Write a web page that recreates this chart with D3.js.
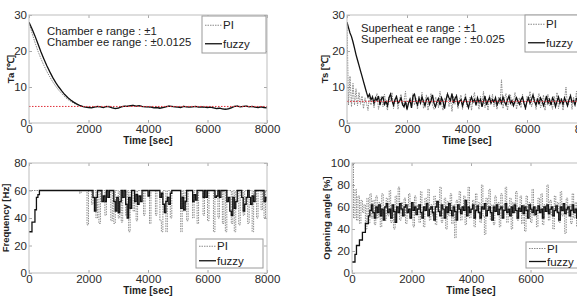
<!DOCTYPE html>
<html lang="en">
<head>
<meta charset="UTF-8">
<title>PI vs fuzzy control responses</title>
<script src="https://d3js.org/d3.v7.min.js"></script>
<style>
  body { margin: 0; background: #fff; }
  svg { display: block; font-family: Arial, Helvetica, sans-serif; }
</style>
</head>
<body>
<div id="chart"></div>
<script>
// ---- data ----
const xTicks = [0, 2000, 4000, 6000, 8000];

// chamber temperature Ta, one sample every 100 s
const taStep = 100;
const taFuzzy = [
  28, 26.2, 24.2, 22, 19.8, 17.8, 15.9, 14.2, 12.6, 11.2,
  10, 8.9, 7.9, 7.1, 6.4, 5.8, 5.3, 4.9, 4.6, 4.4,
  4.3, 4.2, 4.4, 4.6, 4.5, 4.3, 4.6, 4.5, 4.2, 4.0,
  4.1, 4.5, 4.7, 4.6, 4.8, 4.9, 4.7, 4.8, 4.6, 4.5,
  4.5, 4.4, 4.2, 4.3, 4.1, 4.3, 4.5, 4.7, 4.6, 4.5,
  4.4, 4.3, 4.6, 4.5, 4.4, 4.5, 4.6, 4.4, 4.5, 4.4,
  4.3, 4.4, 4.2, 4.0, 4.1, 3.9, 3.8, 3.9, 4.2, 4.6,
  4.7, 4.5, 4.6, 4.7, 4.5, 4.6, 4.4, 4.3, 4.5, 4.3,
  4.2
];
const taPI = [
  28, 25, 22.4, 20, 17.9, 16, 14.3, 12.8, 11.4, 10.2,
  9.1, 8.2, 7.3, 6.6, 6.0, 5.5, 5.1, 4.8, 4.5, 4.4,
  4.4, 4.3, 4.5, 4.4, 4.6, 4.4, 4.5, 4.7, 4.4, 4.1,
  4.2, 4.4, 4.6, 4.8, 4.6, 5.0, 4.6, 4.7, 4.5, 4.6,
  4.4, 4.5, 4.3, 4.4, 4.2, 4.4, 4.6, 4.8, 4.5, 4.6,
  4.5, 4.4, 4.7, 4.4, 4.5, 4.6, 4.5, 4.5, 4.6, 4.3,
  4.4, 4.3, 4.3, 4.1, 4.2, 4.0, 4.0, 4.1, 4.4, 4.5,
  4.8, 4.6, 4.5, 4.8, 4.6, 4.5, 4.5, 4.4, 4.6, 4.4,
  4.3
];
const taSetpoint = 4.6;
const taTicks = [0, 10, 20, 30];

// superheat Ts, one sample every 50 s
const tsStep = 50;
const tsFuzzy = [
  28, 26.5, 25, 24, 22.5, 20.8, 19, 17.5, 16, 14.5, 13, 11.5, 10, 8.5, 7.2,
  8.0, 6.5, 7.2, 5.5, 7.0, 6.2, 7.5, 5.0, 6.8, 7.2,
  5.2, 6.0, 4.8, 7.0, 8.0, 6.2, 5.0, 6.5, 7.3, 5.5,
  6.0, 7.0, 5.2, 4.5, 6.0, 3.8, 5.5, 6.5, 4.2, 7.5,
  8.0, 6.0, 5.0, 6.8, 5.5, 7.2, 6.0, 4.8, 6.5, 7.0,
  5.2, 6.2, 7.8, 5.5, 4.5, 6.0, 6.8, 5.0, 7.0, 6.0,
  4.0, 6.5, 8.0, 7.0, 6.2, 8.2, 5.5, 6.8, 7.5, 5.0,
  6.0, 6.5, 4.8, 6.2, 7.0, 5.5, 4.2, 6.0, 7.2, 5.8,
  6.5, 5.0, 7.0, 5.8, 6.5, 4.5, 6.0, 7.5, 5.0, 6.2,
  7.0, 5.5, 6.5, 5.8, 7.0, 5.0, 6.0, 6.8, 5.5, 7.2,
  6.0, 5.0, 6.5, 7.5, 5.5, 6.2, 4.8, 6.0, 7.0, 6.0,
  5.2, 6.5, 7.2, 5.5, 4.2, 6.0, 7.0, 5.5, 6.5, 7.8,
  6.0, 5.0, 6.8, 5.2, 7.0, 6.2, 4.8, 6.0, 7.5, 5.5,
  6.5, 5.0, 7.0, 6.2, 4.5, 6.0, 7.2, 5.5, 6.5, 5.2,
  7.0, 6.0, 4.8, 6.5, 7.5, 5.8, 6.2, 5.0, 6.8, 7.2,
  5.5, 6.0, 7.5, 5.2, 6.5, 6.0
];
const tsPI = [
  28, 5, 13, 4.5, 11, 5, 9.5, 4.8, 8.5, 5.2, 7.5, 4, 7, 5.5, 3.5, 7.5, 5,
  7.8, 4.2, 6.5, 8.2, 3.8, 6.0, 7.5, 4.5, 8.0, 5.2,
  3.5, 7.2, 6.0, 8.5, 4.0, 5.8, 7.8, 3.8, 6.5, 8.0,
  4.8, 6.2, 8.8, 3.5, 5.5, 7.0, 4.2, 8.2, 5.0, 6.8,
  3.8, 7.5, 5.5, 8.5, 4.0, 6.2, 7.8, 3.5, 6.0, 8.2,
  5.0, 3.8, 7.2, 6.5, 4.2, 8.8, 5.5, 3.5, 7.0, 6.0,
  8.5, 4.5, 6.8, 3.2, 7.5, 5.2, 8.0, 4.0, 6.5, 7.8,
  3.8, 6.0, 8.2, 4.5, 5.8, 7.2, 3.5, 6.8, 8.5, 4.8,
  6.2, 3.8, 7.5, 5.0, 8.8, 4.2, 6.5, 3.5, 7.8, 5.5,
  8.0, 4.5, 6.0, 3.8, 7.2, 5.2, 12.0, 4.0, 6.8, 8.2,
  3.5, 6.5, 7.8, 4.8, 5.8, 8.5, 3.8, 6.2, 7.0, 4.2,
  8.0, 5.5, 3.5, 7.5, 6.0, 8.8, 4.5, 5.8, 7.2, 3.8,
  6.5, 8.2, 4.2, 5.5, 7.8, 3.5, 6.8, 8.0, 4.8, 6.0,
  3.8, 7.5, 5.2, 8.5, 4.0, 6.2, 7.0, 3.5, 6.5, 10.0,
  4.5, 5.8, 8.2, 3.8, 7.2, 5.5, 8.8, 4.2, 6.0, 7.5,
  3.8, 6.5, 8.0, 5.0
];
const tsSetpoint = 6.0;
const tsTicks = [0, 10, 20, 30];

// compressor frequency, one sample every 50 s
const freqStep = 50;
const freqFuzzy = [
  30, 30, 37, 37, 46, 55, 57, 60,
  60, 60, 60, 60, 60, 60, 60, 60, 60, 60,
  60, 60, 60, 60, 60, 60, 60, 60, 60, 60,
  60, 60, 60, 60, 60, 60, 60, 60, 60, 60,
  60, 60, 60, 60, 60,
  55, 45, 55, 60, 60, 60, 52, 56, 52, 60,
  55, 60, 60, 60, 52, 45, 55, 44, 52, 60,
  55, 60, 50, 40, 55, 47, 60, 60, 52, 57,
  50, 56, 52, 60, 60, 60, 60, 56, 60, 60,
  60, 60, 60, 60, 60, 55, 58, 50, 44, 52,
  55, 50, 58, 60, 60, 60, 60, 60, 60, 47,
  55, 46, 52, 60, 60, 60, 60, 52, 57, 53,
  60, 60, 60, 60, 55, 60, 55, 60, 60, 60,
  60, 60, 55, 56, 60, 55, 60, 60, 60, 60,
  52, 55, 45, 42, 55, 47, 52, 60, 60, 60,
  55, 45, 50, 55, 60, 55, 50, 56, 52, 60,
  60, 60, 60, 60, 60, 52, 55, 52
];
const freqPI = [
  60, 60, 60, 60, 60, 60, 60, 60, 60, 60,
  60, 60, 60, 60, 60, 60, 60, 60, 60, 60,
  60, 60, 60, 60, 60, 60, 60, 60, 60, 60,
  60, 60, 60, 60,
  58, 60, 60, 60, 60, 35, 60, 60, 50, 60,
  60, 40, 60, 36, 60, 60, 60, 42, 60, 60,
  60, 38, 60, 36, 60, 60, 40, 60, 37, 60,
  60, 42, 60, 30, 60, 60, 45, 60, 38, 60,
  60, 60, 60, 42, 60, 60, 60, 36, 60, 60,
  60, 42, 60, 60, 38, 30, 60, 60, 30, 60,
  60, 40, 60, 60, 60, 60, 60, 60, 30, 60,
  45, 60, 38, 60, 60, 60, 40, 60, 60, 36,
  60, 60, 60, 42, 60, 60, 38, 60, 60, 60,
  30, 60, 60, 40, 60, 60, 36, 60, 30, 60,
  60, 60, 36, 60, 30, 60, 60, 35, 60, 60,
  42, 60, 60, 36, 60, 60, 30, 60, 60, 40,
  60, 60, 46, 60, 40, 60, 60
];
const freqTicks = [0, 20, 40, 60, 80];

// expansion valve opening angle, one sample every 50 s
const openStep = 50;
const openFuzzy = [
  10, 10, 17, 25, 25, 30, 30, 37, 37, 45, 45, 52, 57, 62, 55,
  50, 60, 55, 62, 52, 58, 48, 60, 63, 55,
  58, 50, 62, 56, 46, 60, 55, 63, 58, 52,
  60, 62, 55, 58, 50, 64, 57, 60, 53, 58,
  62, 55, 50, 60, 57, 63, 52, 58, 60, 55,
  48, 60, 65, 56, 52, 62, 58, 50, 60, 55,
  63, 57, 52, 60, 56, 48, 62, 58, 54, 60,
  57, 66, 52, 60, 55, 58, 62, 50, 57, 61,
  55, 50, 60, 58, 63, 52, 57, 60, 55, 48,
  60, 56, 62, 53, 58, 60, 50, 57, 63, 55,
  58, 52, 60, 55, 62, 57, 50, 59, 56, 61,
  54, 60, 57, 50, 62, 58, 55, 60, 53, 57,
  61, 55, 58, 50, 60, 56, 62, 54, 58, 60,
  52, 57, 61, 55, 48, 60, 57, 63, 54, 58,
  60, 52, 57, 62, 55, 58, 50, 60, 56, 59,
  55, 61, 57, 52, 60, 58
];
const openPI = [
  100, 50, 76, 48, 70, 45, 66, 55, 62, 40, 68, 45, 72, 50, 66,
  44, 70, 50, 64, 42, 72, 55, 48, 68, 52,
  75, 46, 62, 40, 70, 58, 78, 48, 64, 52,
  68, 45, 60, 72, 50, 64, 42, 70, 55, 62,
  46, 74, 56, 42, 68, 60, 76, 48, 62, 52,
  70, 44, 64, 55, 78, 46, 60, 68, 40, 65,
  52, 72, 45, 62, 32, 66, 55, 74, 48, 60,
  70, 44, 62, 78, 50, 58, 66, 42, 72, 55,
  64, 46, 80, 52, 35, 68, 58, 76, 48, 62,
  44, 70, 56, 64, 42, 72, 50, 62, 78, 46,
  60, 68, 40, 64, 55, 74, 48, 60, 70, 45,
  62, 38, 70, 56, 64, 46, 76, 52, 60, 42,
  68, 55, 72, 44, 62, 58, 80, 48, 66, 52,
  40, 70, 56, 64, 46, 74, 52, 60, 36, 68,
  55, 62, 45, 72, 50, 64, 42, 70, 56, 62,
  48, 68, 35, 60, 54, 66
];
const openTicks = [0, 20, 40, 60, 80, 100];

// ---- drawing ----
const width = 577, height = 302;
const toPoints = (vals, step) => vals.map((v, i) => [i * step, v]);

const panels = [
  { id: "ta", box: [29, 267, 15, 123], yDomain: [0, 30], yTicks: taTicks,
    ylabel: "Ta [\u2103]", ylabelX: 14,
    pi: toPoints(taPI, taStep), fuzzy: toPoints(taFuzzy, taStep), curve: d3.curveLinear,
    setpoint: taSetpoint,
    notes: ["Chamber e range : \u00b11", "Chamber ee range : \u00b10.0125"], noteX: 47, noteY: 35,
    legend: [202, 266, 16, 53] },
  { id: "ts", box: [347, 587, 15, 123], yDomain: [0, 30], yTicks: tsTicks,
    ylabel: "Ts [\u2103]", ylabelX: 328,
    pi: toPoints(tsPI, tsStep), fuzzy: toPoints(tsFuzzy, tsStep), curve: d3.curveLinear,
    setpoint: tsSetpoint,
    notes: ["Superheat e range : \u00b11", "Superheat ee range : \u00b10.025"], noteX: 361, noteY: 31.5,
    legend: [525, 600, 15, 52] },
  { id: "freq", box: [29, 267, 163, 273], yDomain: [0, 80], yTicks: freqTicks,
    ylabel: "Frequency [Hz]", ylabelX: 9,
    pi: toPoints(freqPI, freqStep), fuzzy: toPoints(freqFuzzy, freqStep), curve: d3.curveStepAfter,
    legend: [196, 263, 239, 268] },
  { id: "open", box: [352, 590, 163, 273], yDomain: [0, 100], yTicks: openTicks,
    ylabel: "Opening angle [%]", ylabelX: 330,
    pi: toPoints(openPI, openStep), fuzzy: toPoints(openFuzzy, openStep), curve: d3.curveStepAfter,
    legend: [526, 600, 242, 268] }
];

const svg = d3.select("#chart").append("svg")
  .attr("width", width).attr("height", height)
  .attr("viewBox", [0, 0, width, height]);

const defs = svg.append("defs");

panels.forEach(p => {
  const [x0, x1, y0, y1] = p.box;
  const x = d3.scaleLinear().domain([0, 8000]).range([x0, x1]);
  const y = d3.scaleLinear().domain(p.yDomain).range([y1, y0]);
  const g = svg.append("g").attr("class", "panel-" + p.id);

  defs.append("clipPath").attr("id", "clip-" + p.id)
    .append("rect").attr("x", x0).attr("y", y0).attr("width", x1 - x0).attr("height", y1 - y0);

  g.append("rect").attr("x", x0).attr("y", y0).attr("width", x1 - x0).attr("height", y1 - y0)
    .attr("fill", "#fff");

  // axes, MATLAB-ish: ticks inside, box drawn separately
  const styleAxis = sel => {
    sel.select(".domain").remove();
    sel.attr("font-family", null);
    sel.selectAll(".tick line").attr("stroke", "#aaa");
    sel.selectAll(".tick text").attr("fill", "#2a2a2a").style("font-size", "11.5px");
  };
  const plain = d3.format("d");
  g.append("g").attr("transform", `translate(0,${y1})`)
    .call(d3.axisBottom(x).tickValues(xTicks).tickFormat(plain)
      .tickSizeInner(-3).tickSizeOuter(0).tickPadding(2))
    .call(styleAxis);
  g.append("g").attr("transform", `translate(0,${y0})`)
    .call(d3.axisTop(x).tickValues(xTicks).tickSizeInner(-3).tickSizeOuter(0).tickFormat(""))
    .call(styleAxis);
  g.append("g").attr("transform", `translate(${x0},0)`)
    .call(d3.axisLeft(y).tickValues(p.yTicks).tickFormat(plain)
      .tickSizeInner(-3).tickSizeOuter(0).tickPadding(2))
    .call(styleAxis);
  g.append("g").attr("transform", `translate(${x1},0)`)
    .call(d3.axisRight(y).tickValues(p.yTicks).tickSizeInner(-3).tickSizeOuter(0).tickFormat(""))
    .call(styleAxis);

  const plot = g.append("g").attr("clip-path", `url(#clip-${p.id})`);
  const line = d3.line().x(d => x(d[0])).y(d => y(d[1])).curve(p.curve);

  plot.append("path").datum(p.pi).attr("d", line)
    .attr("fill", "none").attr("stroke", "#8a8a8a").attr("stroke-width", 1)
    .attr("stroke-dasharray", "1.5,1");
  plot.append("path").datum(p.fuzzy).attr("d", line)
    .attr("fill", "none").attr("stroke", "#111").attr("stroke-width", 1.3);

  if (p.setpoint !== undefined) {
    plot.append("line")
      .attr("x1", x0).attr("x2", x1).attr("y1", y(p.setpoint)).attr("y2", y(p.setpoint))
      .attr("stroke", "#e0303a").attr("stroke-width", 1).attr("stroke-dasharray", "1.5,1.5");
  }

  g.append("rect").attr("x", x0).attr("y", y0).attr("width", x1 - x0).attr("height", y1 - y0)
    .attr("fill", "none").attr("stroke", "#bdbdbd");

  // labels
  g.append("text").attr("x", (x0 + x1) / 2).attr("y", y1 + 21)
    .attr("text-anchor", "middle").style("font-size", "10px").style("font-weight", "bold")
    .attr("fill", "#222").text("Time [sec]");
  g.append("text")
    .attr("transform", `translate(${p.ylabelX},${(y0 + y1) / 2}) rotate(-90)`)
    .attr("text-anchor", "middle").style("font-size", "9.5px").style("font-weight", "bold")
    .attr("fill", "#222").text(p.ylabel);

  if (p.notes) {
    p.notes.forEach((t, i) => {
      g.append("text").attr("x", p.noteX).attr("y", p.noteY + i * 11)
        .style("font-size", "11.3px").attr("fill", "#222").text(t);
    });
  }

  // legend
  const [lx0, lx1, ly0, ly1] = p.legend;
  const lg = g.append("g");
  lg.append("rect").attr("x", lx0).attr("y", ly0).attr("width", lx1 - lx0).attr("height", ly1 - ly0)
    .attr("fill", "#fff").attr("stroke", "#9a9a9a");
  const rowH = (ly1 - ly0) / 2;
  [["PI", "#8a8a8a", "1.5,1", 1], ["fuzzy", "#111", null, 1.3]].forEach(([name, col, dash, w], i) => {
    const cy = ly0 + rowH * (i + 0.5);
    lg.append("line").attr("x1", lx0 + 3).attr("x2", lx0 + 20).attr("y1", cy).attr("y2", cy)
      .attr("stroke", col).attr("stroke-width", w).attr("stroke-dasharray", dash);
    lg.append("text").attr("x", lx0 + 21).attr("y", cy).attr("dy", "0.35em")
      .style("font-size", "11.5px").attr("fill", "#222").text(name);
  });
});
</script>
</body>
</html>
